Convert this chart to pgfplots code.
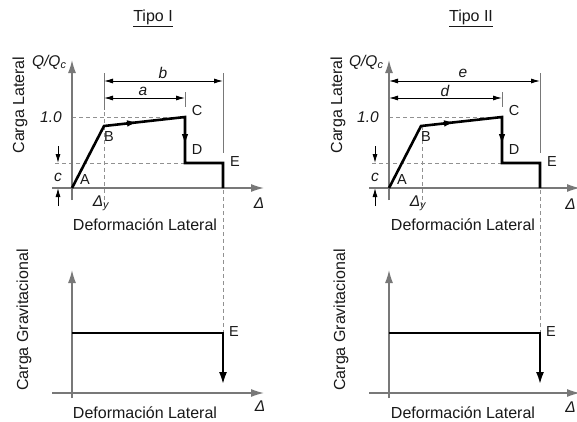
\documentclass[border=0pt]{standalone}
\usepackage{pgfplots}
\pgfplotsset{compat=1.18}
\usepackage{fontspec}
\setmainfont{Liberation Sans}
\usetikzlibrary{arrows.meta}
\definecolor{axgray}{RGB}{120,120,120}
\definecolor{dashgray}{RGB}{145,145,145}
\definecolor{txt}{RGB}{25,25,25}
\tikzset{
  zax/.style={axgray, line width=1.4pt, -{Latex[length=13pt,width=8pt]}},
  zdash/.style={dashgray, line width=0.9pt, dash pattern=on 4pt off 3pt},
  zext/.style={axgray, line width=0.8pt},
  zdim/.style={black, line width=0.9pt, {Latex[length=9pt,width=5pt]}-{Latex[length=9pt,width=5pt]}},
  zdimone/.style={black, line width=0.9pt, -{Latex[length=9pt,width=5pt]}},
  zcurve/.style={black, line width=2.6pt},
  zmid/.style={black, line width=1pt, -{Latex[length=10pt,width=6.5pt]}},
  zlab/.style={font=\fontsize{16}{18}\selectfont, text=txt},
  zpt/.style={font=\fontsize{14.5}{16}\selectfont, text=txt},
  zit/.style={font=\fontsize{15.5}{17}\selectfont\itshape, text=txt},
}
\begin{document}
\begin{tikzpicture}
\begin{axis}[
  scale only axis, width=577pt, height=421pt,
  xmin=0, xmax=577, ymin=0, ymax=421, y dir=reverse,
  axis lines=none, ticks=none, clip=true, no markers,
]
\fill[white] (0,0) rectangle (577,421);

% ================= Panel Tipo I (top) =================
\addplot[zdash] coordinates {(72,117) (185,117)};
\addplot[zdash] coordinates {(55,163) (185,163)};
\addplot[zdash] coordinates {(104,112) (104,205)};
\addplot[zdash] coordinates {(223,190) (223,333)};
\addplot[zext] coordinates {(104,73) (104,110)};
\addplot[zext] coordinates {(185,92) (185,107)};
\addplot[zext] coordinates {(223,73) (223,153)};
\addplot[zdim] coordinates {(104,81) (223,81)};
\addplot[zdim] coordinates {(104,98) (185,98)};
\addplot[zdimone] coordinates {(58,146) (58,163)};
\addplot[zdimone] coordinates {(58,206) (58,188)};
\addplot[zax] coordinates {(52,188) (264,188)};
\addplot[zax] coordinates {(72,200) (72,60)};
\addplot[zcurve] coordinates {(72,188) (104,126) (185,117) (185,163) (223,163) (223,188)};
\addplot[zmid] coordinates {(120,124.2) (137,122.3)};
\addplot[zmid] coordinates {(185,126) (185,144)};

\node[zit, anchor=east] at (70,62) {Q/Q\textsubscript{c}};
\node[zit] at (51,117) {1.0};
\node[zit] at (58,177) {c};
\node[zpt] at (85,180) {A};
\node[zpt] at (109,137) {B};
\node[zpt] at (197,111) {C};
\node[zpt] at (197,150) {D};
\node[zpt] at (235,162) {E};
\node[zit] at (101,203) {Δ\textsubscript{y}};
\node[zit] at (259,203) {Δ};
\node[zit] at (143,91) {a};
\node[zit] at (163,73) {b};
\node[zlab] at (145,225) {Deformación Lateral};
\node[zlab, rotate=90] at (20,105) {Carga Lateral};
\node[zlab] at (153,18) {\underline{Tipo I}};

% ================= Panel Tipo I (bottom) =================
\addplot[zax] coordinates {(52,393) (264,393)};
\addplot[zax] coordinates {(72,398) (72,270)};
\addplot[zcurve] coordinates {(72,333) (223,333) (223,370)};
\addplot[black, line width=2.6pt, -{Latex[length=13pt,width=8pt]}] coordinates {(223,360) (223,385)};
\node[zpt] at (234,332) {E};
\node[zlab, rotate=90] at (24,320) {Carga Gravitacional};
\node[zlab] at (145,413) {Deformación Lateral};
\node[zit] at (260,406) {Δ};

% ================= Panel Tipo II (top) =================
\addplot[zdash] coordinates {(389,117) (502,117)};
\addplot[zdash] coordinates {(372,163) (502,163)};
\addplot[zdash] coordinates {(422,126) (422,205)};
\addplot[zdash] coordinates {(540,190) (540,333)};
\addplot[zext] coordinates {(502,92) (502,107)};
\addplot[zext] coordinates {(540,73) (540,153)};
\addplot[zdim] coordinates {(389,81) (540,81)};
\addplot[zdim] coordinates {(389,98) (502,98)};
\addplot[zdimone] coordinates {(375,146) (375,163)};
\addplot[zdimone] coordinates {(375,206) (375,188)};
\addplot[zax] coordinates {(369,188) (580,188)};
\addplot[zax] coordinates {(389,200) (389,60)};
\addplot[zcurve] coordinates {(389,188) (421,126) (502,117) (502,163) (540,163) (540,188)};
\addplot[zmid] coordinates {(437,124.2) (454,122.3)};
\addplot[zmid] coordinates {(502,126) (502,144)};

\node[zit, anchor=east] at (387,62) {Q/Q\textsubscript{c}};
\node[zit] at (368,117) {1.0};
\node[zit] at (375,177) {c};
\node[zpt] at (402,180) {A};
\node[zpt] at (426,137) {B};
\node[zpt] at (514,111) {C};
\node[zpt] at (514,150) {D};
\node[zpt] at (552,162) {E};
\node[zit] at (418,203) {Δ\textsubscript{y}};
\node[zit, anchor=east, inner sep=1pt] at (577,204) {Δ};
\node[zit] at (445,91) {d};
\node[zit] at (463,73) {e};
\node[zlab] at (463,225) {Deformación Lateral};
\node[zlab, rotate=90] at (338,105) {Carga Lateral};
\node[zlab] at (471,18) {\underline{Tipo II}};

% ================= Panel Tipo II (bottom) =================
\addplot[zax] coordinates {(369,393) (580,393)};
\addplot[zax] coordinates {(389,398) (389,270)};
\addplot[zcurve] coordinates {(389,333) (540,333) (540,370)};
\addplot[black, line width=2.6pt, -{Latex[length=13pt,width=8pt]}] coordinates {(540,360) (540,385)};
\node[zpt] at (551,332) {E};
\node[zlab, rotate=90] at (341,320) {Carga Gravitacional};
\node[zlab] at (463,413) {Deformación Lateral};
\node[zit, anchor=east, inner sep=1pt] at (577,407) {Δ};
\end{axis}
\pgfresetboundingbox
\useasboundingbox (current axis.south west) rectangle (current axis.north east);
\end{tikzpicture}
\end{document}
